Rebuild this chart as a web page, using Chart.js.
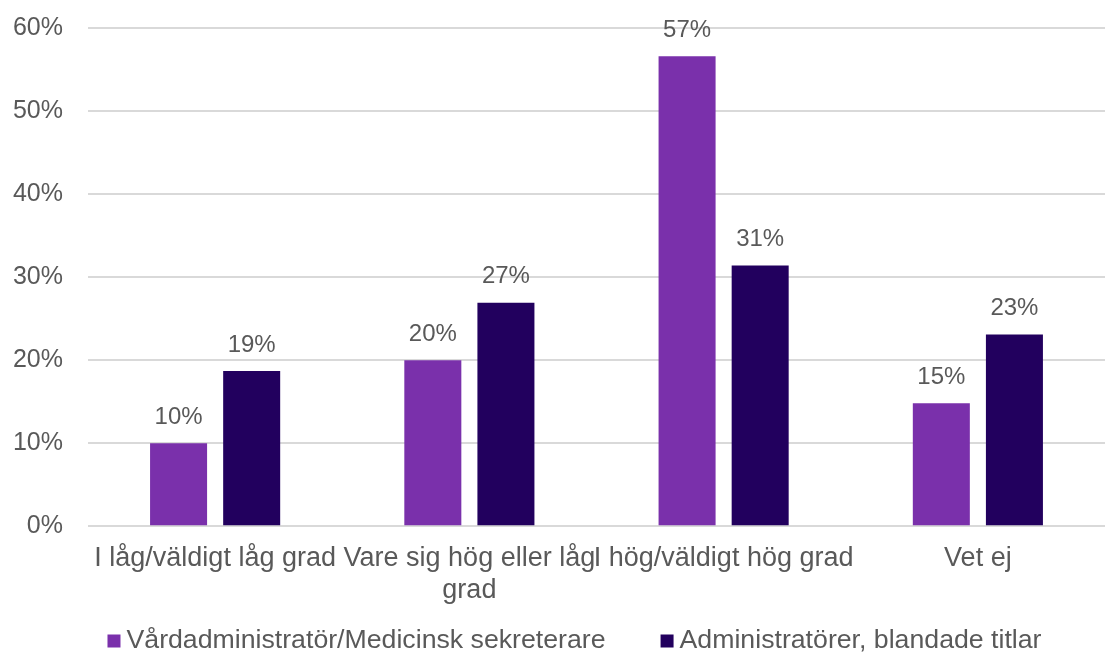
<!DOCTYPE html>
<html>
<head>
<meta charset="utf-8">
<script src="https://cdn.jsdelivr.net/npm/chart.js@4/dist/chart.umd.min.js"></script>
<style>
  html, body { margin: 0; padding: 0; background: #fff; }
  #wrap { width: 1105px; height: 652px; }
</style>
</head>
<body>
<div id="wrap"><canvas id="chart"></canvas></div>
<script>
const categories = [
  "I låg/väldigt låg grad",
  ["Vare sig hög eller låg", "grad"],
  "I hög/väldigt hög grad",
  "Vet ej"
]
const vardadmin = [10.0, 20.0, 56.6, 14.8]
const administratorer = [18.7, 26.9, 31.4, 23.1]
const yTicks = [0, 10, 20, 30, 40, 50, 60]

const textColor = "#595959"
const fontFamily = "'Liberation Sans', Arial, sans-serif"

const barLabelPlugin = {
  id: 'barValueLabels',
  afterDatasetsDraw(chart) {
    const ctx = chart.ctx
    ctx.save()
    ctx.textAlign = "center"
    ctx.textBaseline = "bottom"
    ctx.font = "24px " + fontFamily
    ctx.fillStyle = textColor
    chart.data.datasets.forEach((dataset, datasetIndex) => {
      const meta = chart.getDatasetMeta(datasetIndex)
      meta.data.forEach((bar, i) => {
        ctx.fillText(Math.round(dataset.data[i]) + "%", bar.x, bar.y - 14)
      })
    })
    ctx.restore()
  }
}

// legend drawn by hand so the box/text spacing matches the original
const bottomLegend = {
  id: 'bottomLegend',
  afterDraw(chart) {
    const ctx = chart.ctx
    ctx.save()
    ctx.font = "26.7px " + fontFamily
    ctx.textBaseline = "middle"
    ctx.textAlign = "left"
    const box = 13, gap = 6, itemGap = 55
    const items = chart.data.datasets.map(ds => ({
      text: ds.label,
      color: ds.backgroundColor,
      w: box + gap + ctx.measureText(ds.label).width
    }))
    const total = items.reduce((s, it) => s + it.w, 0) + itemGap * (items.length - 1)
    let x = chart.width / 2 + 22 - total / 2
    const y = chart.height - 11
    items.forEach(it => {
      ctx.fillStyle = it.color
      ctx.fillRect(x, y - box / 2, box, box)
      ctx.fillStyle = textColor
      ctx.fillText(it.text, x + box + gap, y)
      x += it.w + itemGap
    })
    ctx.restore()
  }
}

const ctx = document.getElementById("chart").getContext("2d")
new Chart(ctx, {
  type: "bar",
  data: {
    labels: categories,
    datasets: [
      {
        label: "Vårdadministratör/Medicinsk sekreterare",
        data: vardadmin,
        backgroundColor: "#7A30AB",
        categoryPercentage: 0.575,
        barPercentage: 0.78
      },
      {
        label: "Administratörer, blandade titlar",
        data: administratorer,
        backgroundColor: "#22005E",
        categoryPercentage: 0.575,
        barPercentage: 0.78
      }
    ]
  },
  options: {
    responsive: true,
    maintainAspectRatio: false,
    animation: false,
    devicePixelRatio: 1,
    layout: {
      padding: { left: 0, right: 0, top: 28, bottom: 37 }
    },
    scales: {
      x: {
        grid: { display: false },
        border: { display: false },
        ticks: {
          color: textColor,
          font: { family: fontFamily, size: 27 },
          maxRotation: 0,
          autoSkip: false,
          padding: 8
        }
      },
      y: {
        min: 0,
        max: 60,
        afterBuildTicks(axis) {
          axis.ticks = yTicks.map(v => ({ value: v }))
        },
        afterFit(axis) {
          axis.width = 88
          axis.paddingTop = 0
          axis.paddingBottom = 0
        },
        border: { display: false },
        grid: { color: "#D9D9D9", lineWidth: 2, drawTicks: false },
        ticks: {
          color: textColor,
          font: { family: fontFamily, size: 25 },
          padding: 25,
          callback: v => v + "%"
        }
      }
    },
    plugins: {
      legend: { display: false },
      tooltip: { enabled: false }
    }
  },
  plugins: [barLabelPlugin, bottomLegend]
})
</script>
</body>
</html>
